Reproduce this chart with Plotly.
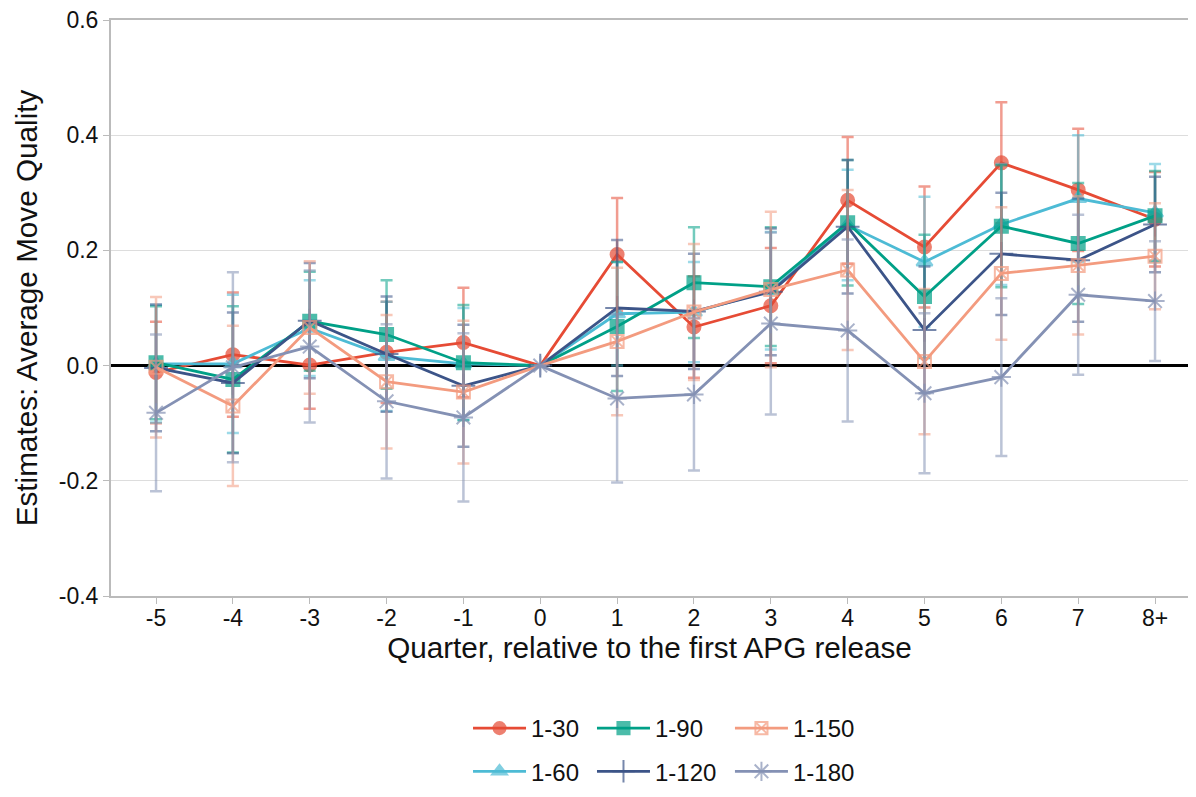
import plotly.graph_objects as go

quarters = ["-5", "-4", "-3", "-2", "-1", "0", "1", "2", "3", "4", "5", "6", "7", "8+"]
reference_quarter = "0"

series_names = ["1-30", "1-60", "1-90", "1-120", "1-150", "1-180"]

est_1_30 = [-0.012, 0.019, 0.001, 0.023, 0.040, 0.0, 0.193, 0.067, 0.104, 0.287, 0.206, 0.352, 0.305, 0.254]
ci_1_30 = [0.088, 0.108, 0.076, 0.088, 0.095, 0.0, 0.098, 0.088, 0.100, 0.110, 0.105, 0.105, 0.106, 0.082]

est_1_60 = [0.003, 0.003, 0.065, 0.016, 0.003, 0.0, 0.090, 0.093, 0.130, 0.244, 0.180, 0.245, 0.290, 0.265]
ci_1_60 = [0.102, 0.120, 0.083, 0.095, 0.097, 0.0, 0.090, 0.087, 0.102, 0.096, 0.113, 0.105, 0.110, 0.085]

est_1_90 = [0.005, -0.024, 0.077, 0.054, 0.005, 0.0, 0.068, 0.144, 0.137, 0.248, 0.120, 0.242, 0.212, 0.260]
ci_1_90 = [0.098, 0.127, 0.086, 0.094, 0.100, 0.0, 0.112, 0.096, 0.103, 0.109, 0.107, 0.106, 0.105, 0.078]

est_1_120 = [-0.004, -0.030, 0.078, 0.020, -0.035, 0.0, 0.100, 0.094, 0.128, 0.241, 0.062, 0.194, 0.183, 0.245]
ci_1_120 = [0.110, 0.122, 0.100, 0.100, 0.106, 0.0, 0.118, 0.100, 0.110, 0.116, 0.110, 0.106, 0.107, 0.083]

est_1_150 = [-0.003, -0.070, 0.066, -0.028, -0.046, 0.0, 0.042, 0.093, 0.132, 0.166, 0.007, 0.160, 0.174, 0.190]
ci_1_150 = [0.122, 0.139, 0.115, 0.116, 0.124, 0.0, 0.128, 0.118, 0.135, 0.139, 0.126, 0.115, 0.120, 0.092]

est_1_180 = [-0.082, -0.003, 0.033, -0.062, -0.090, 0.0, -0.057, -0.050, 0.073, 0.061, -0.048, -0.020, 0.123, 0.112]
ci_1_180 = [0.136, 0.165, 0.132, 0.134, 0.146, 0.0, 0.146, 0.132, 0.158, 0.158, 0.139, 0.137, 0.139, 0.104]

y_ticks = [-0.4, -0.2, 0.0, 0.2, 0.4, 0.6]
y_ticklabels = ["-0.4", "-0.2", "0.0", "0.2", "0.4", "0.6"]

estimates = [est_1_30, est_1_60, est_1_90, est_1_120, est_1_150, est_1_180]
cis = [ci_1_30, ci_1_60, ci_1_90, ci_1_120, ci_1_150, ci_1_180]

colors = ["#E64B35", "#4DBBD5", "#00A087", "#3C5488", "#F39B7F", "#8491B4"]
err_colors = ["rgba(230,75,53,0.55)", "rgba(77,187,213,0.55)", "rgba(0,160,135,0.55)",
              "rgba(60,84,136,0.55)", "rgba(243,155,127,0.55)", "rgba(132,145,180,0.55)"]
symbols = ["circle", "triangle-up", "square", "cross-thin-open", "square-x-open", "asterisk-open"]
msizes = [13, 14, 13, 17, 13, 16]
show_at_ref = [False, False, False, True, False, True]
legend_ids = ["legend", "legend", "legend2", "legend2", "legend3", "legend3"]

FONT = "Liberation Sans, Arial, Helvetica, sans-serif"

fig = go.Figure()
for i, name in enumerate(series_names):
    sizes = [msizes[i] if (q != reference_quarter or show_at_ref[i]) else 0 for q in quarters]
    fig.add_trace(go.Scatter(
        x=quarters, y=estimates[i], name=name, mode="lines+markers",
        line=dict(color=colors[i], width=2.8),
        marker=dict(symbol=symbols[i], size=sizes, color=colors[i],
                    line=dict(color=colors[i], width=2)),
        error_y=dict(type="data", array=cis[i], visible=True, color=err_colors[i],
                     thickness=2.5, width=6),
        legend=legend_ids[i], legendgroup=name,
    ))

legend_common = dict(font=dict(size=24, family=FONT, color="#111"), orientation="v",
                     bgcolor="rgba(0,0,0,0)", tracegroupgap=9, traceorder="grouped",
                     yanchor="top", y=-0.191, xanchor="left", itemwidth=53)

# page body has an 8px margin, so the figure is sized to fit the window exactly
fig.update_layout(
    width=1180, height=781,
    paper_bgcolor="white", plot_bgcolor="white",
    margin=dict(l=103, r=0, t=12, b=193, autoexpand=False),
    font=dict(family=FONT, size=23, color="#111"),
    showlegend=True,
    legend=dict(legend_common, x=0.3315),
    legend2=dict(legend_common, x=0.4466),
    legend3=dict(legend_common, x=0.5747),
    xaxis=dict(
        type="category", range=[-0.586, 13.429], automargin=False,
        showgrid=False, showline=True, linecolor="#bbbbbb", linewidth=2, mirror=True,
        ticks="outside", ticklen=6, tickcolor="#bbbbbb", tickwidth=1,
        tickfont=dict(size=23), ticklabelstandoff=-6,
        title=dict(text="Quarter, relative to the first APG release", font=dict(size=29.7), standoff=0),
    ),
    yaxis=dict(
        range=[-0.4, 0.6], tickvals=y_ticks, ticktext=y_ticklabels, automargin=False,
        ticklabeloverflow="allow",
        showgrid=True, gridcolor="#dddddd", gridwidth=1,
        showline=True, linecolor="#bbbbbb", linewidth=2,
        zeroline=True, zerolinecolor="black", zerolinewidth=3,
        ticks="outside", ticklen=6, tickcolor="#bbbbbb", tickwidth=1,
        tickfont=dict(size=23),
        title=dict(text="Estimates: Average Move Quality", font=dict(size=29.7), standoff=12),
    ),
)

fig.write_html("out.html")
